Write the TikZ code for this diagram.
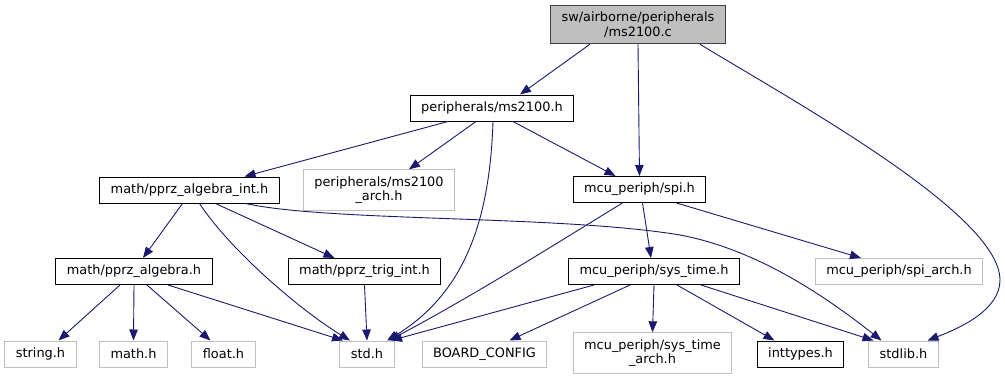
\documentclass[tikz,border=0pt]{standalone}
\usepackage{fontspec}
\setmainfont{DejaVu Sans}
\usetikzlibrary{arrows.meta}

\definecolor{edgeblue}{HTML}{191970}
\definecolor{boxgray}{HTML}{BFBFBF}
\definecolor{boxdark}{HTML}{404040}

\begin{document}
\begin{tikzpicture}[x=1pt, y=-1pt,
	file/.style={draw=black, line width=1pt, inner xsep=11pt, inner ysep=6.5pt, minimum height=26pt, align=center, font=\fontsize{12.9}{14.5}\selectfont},
	extfile/.style={file, draw=boxgray},
	topfile/.style={file, draw=boxdark, fill=boxgray},
	incl/.style={draw=edgeblue, line width=0.9pt, -{Triangle[length=11pt, width=8.5pt]}}]
\useasboundingbox (0,0) rectangle (1005,380);
% draw the files
	\node[topfile] (root) at (638,24.5) {sw/airborne/peripherals\\/ms2100.c};
	\node[file] (ms) at (492,108) {peripherals/ms2100.h};
	\node[file] (algint) at (189.5,190) {math/pprz\_algebra\_int.h};
	\node[extfile] (msarch) at (379,190) {peripherals/ms2100\\\_arch.h};
	\node[file] (spi) at (639.5,189.5) {mcu\_periph/spi.h};
	\node[file] (alg) at (134,271.5) {math/pprz\_algebra.h};
	\node[file] (trig) at (364.5,271.5) {math/pprz\_trig\_int.h};
	\node[file] (systime) at (654,271.5) {mcu\_periph/sys\_time.h};
	\node[extfile] (spiarch) at (899,271.5) {mcu\_periph/spi\_arch.h};
	\node[extfile] (strh) at (40.5,354) {string.h};
	\node[extfile] (mathh) at (133.5,354) {math.h};
	\node[extfile] (floath) at (223.5,354) {float.h};
	\node[extfile] (stdh) at (367,354) {std.h};
	\node[extfile] (board) at (484.5,354) {BOARD\_CONFIG};
	\node[extfile] (systimearch) at (652.5,353) {mcu\_periph/sys\_time\\\_arch.h};
	\node[file] (inttypes) at (800.5,354) {inttypes.h};
	\node[extfile] (stdlib) at (903.5,354) {stdlib.h};

% draw includes of ms2100.c
	\draw[incl] ([xshift=-48pt]root.south) -- ([xshift=28pt]ms.north);
	\draw[incl] (root.south) -- (spi.north);
	\draw[incl] ([xshift=62pt]root.south) .. controls (800,105) and (1000,215) .. (1000,280) .. controls (1000,310) and (960,328) .. ([xshift=24pt]stdlib.north);

% draw includes of ms2100.h
	\draw[incl] ([xshift=-44pt]ms.south) -- ([xshift=55pt]algint.north);
	\draw[incl] ([xshift=-16pt]ms.south) -- ([xshift=30pt]msarch.north);
	\draw[incl] ([xshift=1pt]ms.south) .. controls (490,210) and (470,290) .. ([xshift=20pt]stdh.north);
	\draw[incl] ([xshift=21pt]ms.south) -- ([xshift=-24pt]spi.north);

% draw includes of pprz_algebra_int.h
	\draw[incl] ([xshift=-7pt]algint.south) -- ([xshift=9pt]alg.north);
	\draw[incl] ([xshift=10pt]algint.south) .. controls (230,250) and (300,310) .. ([xshift=-17pt]stdh.north);
	\draw[incl] ([xshift=26pt]algint.south) -- ([xshift=-30pt]trig.north);
	\draw[incl] ([xshift=56pt]algint.south) .. controls (330,222) and (560,215) .. (680,235) .. controls (760,250) and (830,300) .. ([xshift=-22pt]stdlib.north);

% draw includes of spi.h
	\draw[incl] ([xshift=-17pt]spi.south) .. controls (565,238) and (480,292) .. ([xshift=22pt]stdh.north);
	\draw[incl] ([xshift=3pt]spi.south) -- ([xshift=-3pt]systime.north);
	\draw[incl] ([xshift=37pt]spi.south) -- ([xshift=-38pt]spiarch.north);

% draw includes of pprz_algebra.h and pprz_trig_int.h
	\draw[incl] ([xshift=-14pt]alg.south) -- ([xshift=18pt]strh.north);
	\draw[incl] (alg.south) -- (mathh.north);
	\draw[incl] ([xshift=13pt]alg.south) -- ([xshift=-13pt]floath.north);
	\draw[incl] ([xshift=34pt]alg.south) -- ([xshift=-24pt]stdh.north);
	\draw[incl] (trig.south) -- (stdh.north);

% draw includes of sys_time.h
	\draw[incl] ([xshift=-60pt]systime.south) -- ([xshift=24pt]stdh.north);
	\draw[incl] ([xshift=-24pt]systime.south) -- ([xshift=25pt]board.north);
	\draw[incl] (systime.south) -- (systimearch.north);
	\draw[incl] ([xshift=23pt]systime.south) -- ([xshift=-26pt]inttypes.north);
	\draw[incl] ([xshift=47pt]systime.south) -- ([xshift=-30pt]stdlib.north);
\end{tikzpicture}
\end{document}
